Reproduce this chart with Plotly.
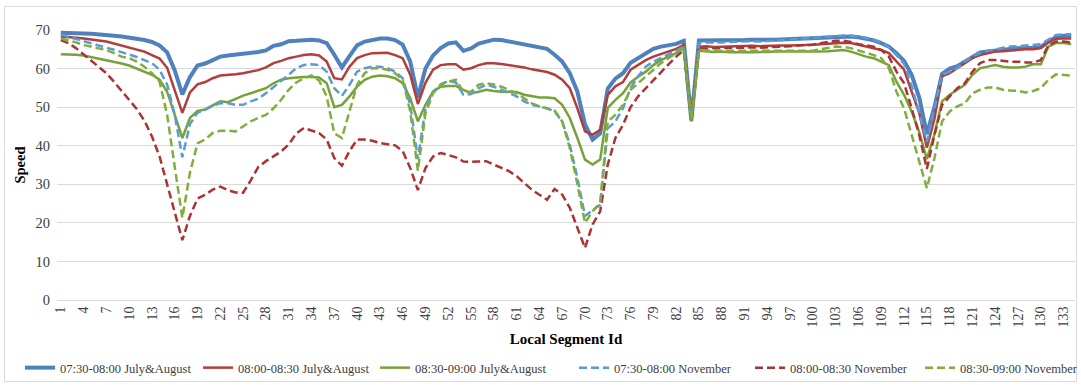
import plotly.graph_objects as go

# Local segment ids 1..134
segments = list(range(1, 135))

speed_0730_jul_aug = [
    69.3, 69.3, 69.2, 69.1, 69.0, 68.9, 68.8, 68.5, 68.3, 68.0,
    67.8, 67.4, 66.9, 66.0, 64.2, 59.5, 53.3, 57.8, 60.8, 61.3,
    62.2, 63.1, 63.4, 63.6, 63.9, 64.0, 64.3, 64.7, 65.9, 66.3,
    67.1, 67.2, 67.3, 67.5, 67.3, 66.6, 63.6, 60.3, 63.2, 66.0,
    67.0, 67.5, 67.8, 67.8, 67.4, 66.2, 61.8, 52.5, 60.0, 63.4,
    65.3, 66.5, 66.8, 64.6, 65.2, 66.5, 67.1, 67.5, 67.4, 67.0,
    66.7, 66.3, 66.0, 65.6, 65.1, 63.6, 61.8, 58.8, 54.0, 45.5,
    41.6, 43.2, 54.8, 57.4, 58.8, 61.5, 62.7, 64.0, 65.1, 65.7,
    66.1, 66.4, 67.2, 46.5, 67.3, 67.3, 67.2, 67.3, 67.2, 67.4,
    67.4, 67.5, 67.4, 67.5, 67.5, 67.5, 67.6, 67.7, 67.8, 67.9,
    68.0, 68.2, 68.3, 68.4, 68.3, 68.1, 67.8, 67.3, 66.6, 65.7,
    64.0, 62.0, 58.4, 52.5, 43.0, 50.0, 58.6, 60.0, 60.6, 61.8,
    63.1, 64.2, 64.4, 64.7, 64.9, 65.1, 65.3, 65.3, 65.4, 65.6,
    67.0, 68.2, 68.5, 68.6,
]

speed_0800_jul_aug = [
    68.3, 68.2, 68.0, 67.8, 67.6, 67.3, 67.0, 66.5, 66.0, 65.4,
    64.9, 64.4, 63.5, 62.6, 60.2, 54.5, 48.5, 53.8, 55.9, 56.5,
    57.5, 58.2, 58.3, 58.5, 58.8, 59.2, 59.6, 60.3, 61.4, 62.0,
    62.7, 63.1, 63.5, 63.7, 63.4, 61.8, 57.5, 57.2, 60.5, 62.7,
    63.5, 64.0, 64.1, 64.1, 63.5, 62.7, 58.4, 50.8, 56.3, 59.7,
    60.9, 61.1, 61.1, 59.7, 60.1, 60.9, 61.4, 61.4, 61.2, 60.9,
    60.5, 60.3, 59.8, 59.4, 59.1, 58.4, 57.1, 54.9, 49.7, 43.7,
    42.8, 44.1, 53.2, 55.4, 56.5, 59.7, 60.9, 62.2, 63.1, 63.7,
    64.4, 65.1, 66.1, 46.4, 65.7, 65.8, 65.6, 65.7, 65.7, 65.8,
    65.8, 65.9, 65.8, 65.9, 65.9, 66.0, 66.0, 66.0, 66.1, 66.2,
    66.3, 66.5, 66.6, 66.7, 66.6, 66.2, 65.8, 65.3, 64.8, 64.0,
    61.8, 59.7, 54.0, 48.5, 39.5, 47.0, 58.0, 58.8, 60.1, 61.4,
    62.7, 63.5, 64.0, 64.4, 64.5, 64.7, 64.8, 65.0, 65.0, 65.3,
    67.0, 67.7, 67.8, 67.8,
]

speed_0830_jul_aug = [
    63.7, 63.7, 63.6, 63.4, 63.0, 62.6, 62.2, 61.7, 61.3, 60.8,
    60.0, 59.2, 58.4, 57.1, 54.0, 48.0, 42.0, 47.2, 49.0, 49.4,
    50.5, 51.5, 51.3, 52.2, 53.0, 53.6, 54.2, 54.9, 56.2, 57.1,
    57.5, 57.7, 57.8, 57.8, 57.7, 56.2, 50.0, 50.6, 52.8, 55.3,
    57.1, 57.9, 58.2, 58.0, 57.5, 56.2, 52.3, 46.3, 50.6, 54.0,
    55.3, 55.5, 55.5, 54.5, 53.6, 54.0, 54.5, 54.2, 54.0, 54.0,
    53.9, 53.2, 52.8, 52.5, 52.5, 52.3, 50.6, 47.2, 42.0, 36.4,
    35.1, 36.4, 49.8, 51.9, 53.6, 56.4, 57.9, 59.2, 60.9, 62.2,
    63.1, 64.0, 65.4, 46.3, 64.6, 64.4, 64.3, 64.4, 64.2, 64.2,
    64.3, 64.2, 64.2, 64.3, 64.4, 64.4, 64.3, 64.4, 64.4, 64.4,
    64.4, 64.5, 64.6, 64.8, 64.4, 63.7, 63.1, 62.7, 61.8, 60.9,
    56.6, 53.2, 48.9, 43.5, 36.5, 43.0, 51.5, 53.2, 54.5, 55.8,
    58.4, 60.1, 60.5, 60.9, 60.5, 60.3, 60.3, 60.5, 61.1, 61.1,
    65.7, 66.6, 66.6, 66.4,
]

speed_0730_nov = [
    68.8, 68.2, 67.7, 67.2, 66.6, 66.0, 65.4, 64.9, 64.3, 63.7,
    63.0, 62.2, 61.4, 59.7, 55.8, 48.0, 37.0, 45.6, 48.6, 49.3,
    50.4, 51.0, 51.0, 50.6, 50.6, 51.5, 52.2, 53.6, 55.3, 56.8,
    58.4, 60.1, 60.9, 61.1, 60.9, 59.2, 54.9, 52.9, 55.8, 59.2,
    60.1, 60.5, 60.5, 60.1, 59.2, 57.5, 50.6, 36.5, 49.7, 54.0,
    55.9, 56.8, 56.4, 53.2, 53.4, 54.9, 55.8, 55.3, 54.5, 53.6,
    52.8, 51.5, 50.6, 50.2, 49.7, 48.9, 46.3, 40.3, 31.6, 21.8,
    23.2, 24.7, 44.5, 46.3, 49.7, 55.0, 58.0, 60.5, 61.8, 62.7,
    63.5, 64.6, 65.7, 46.5, 66.6, 66.8, 66.7, 66.8, 66.8, 67.0,
    67.0, 67.1, 67.0, 67.2, 67.3, 67.4, 67.5, 67.6, 67.8, 67.9,
    68.1, 68.3, 68.5, 68.6, 68.5, 68.3, 68.0, 67.5, 66.8, 65.5,
    63.5, 61.2, 55.5, 48.5, 41.0, 49.5, 58.4, 59.2, 60.1, 61.8,
    63.1, 64.0, 64.6, 64.9, 65.4, 65.7, 65.8, 65.9, 66.1, 66.3,
    67.4, 68.7, 68.9, 68.9,
]

speed_0800_nov = [
    67.4, 66.6, 65.3, 63.7, 62.2, 60.5, 58.8, 56.6, 54.2, 52.0,
    49.5, 46.5, 42.4, 37.2, 30.0, 22.5, 15.5, 21.8, 26.3, 27.3,
    28.6, 29.4, 28.5, 27.9, 27.8, 31.0, 34.5, 36.0, 37.3, 38.5,
    40.3, 43.2, 44.6, 44.0, 43.3, 41.6, 36.8, 34.8, 38.6, 41.6,
    41.6, 41.3, 40.7, 40.4, 40.1, 38.6, 34.2, 28.5, 34.2, 37.2,
    38.1, 37.6, 37.0, 35.9, 35.8, 35.9, 36.0, 35.1, 34.2, 33.4,
    32.1, 30.3, 28.6, 27.3, 26.0, 28.8, 27.3, 23.9, 18.7, 13.5,
    19.6, 23.0, 35.1, 42.0, 45.4, 50.0, 52.8, 54.9, 57.1, 59.2,
    61.1, 63.1, 64.8, 46.5, 65.3, 65.2, 65.3, 65.3, 65.4, 65.4,
    65.4, 65.5, 65.4, 65.5, 65.5, 65.6, 65.8, 66.0, 66.1, 66.2,
    66.6, 66.9, 67.2, 67.2, 66.9, 66.3, 66.0, 65.7, 64.8, 63.1,
    59.2, 56.2, 49.7, 42.8, 34.0, 42.8, 50.6, 52.8, 54.9, 56.2,
    59.2, 61.4, 62.2, 62.2, 62.0, 61.8, 61.8, 61.6, 61.6, 62.2,
    66.1, 67.0, 67.0, 66.8,
]

speed_0830_nov = [
    67.8, 67.3, 66.8, 66.1, 65.7, 65.3, 64.8, 64.0, 63.1, 62.7,
    61.8, 60.5, 58.8, 56.6, 48.0, 34.5, 21.3, 33.0, 40.6, 41.6,
    43.3, 43.9, 43.9, 43.7, 45.0, 46.3, 47.2, 48.0, 49.7, 51.9,
    54.5, 56.4, 57.5, 58.2, 56.9, 52.8, 43.2, 42.0, 48.9, 55.8,
    58.8, 60.1, 60.1, 59.7, 58.8, 57.1, 48.9, 33.5, 48.4, 53.6,
    55.8, 56.6, 57.1, 54.0, 54.0, 55.8, 56.2, 55.9, 55.3, 54.5,
    53.6, 52.3, 51.0, 50.2, 49.7, 49.1, 46.3, 39.4, 30.0, 20.0,
    23.0, 25.2, 46.3, 48.0, 50.6, 54.5, 56.2, 57.9, 59.7, 61.4,
    62.7, 64.0, 65.4, 46.5, 64.8, 64.6, 64.6, 64.6, 64.6, 64.6,
    64.6, 64.6, 64.6, 64.6, 64.6, 64.6, 64.6, 64.6, 64.6, 64.6,
    65.0, 65.3, 65.7, 65.6, 65.3, 64.7, 64.2, 63.5, 62.7, 60.1,
    54.0, 49.7, 42.8, 36.0, 29.0, 36.8, 46.3, 48.9, 50.2, 51.0,
    53.6, 54.5, 55.1, 55.1, 54.5, 54.3, 54.2, 53.8, 54.2, 54.9,
    57.1, 58.5, 58.4, 58.2,
]

x_tick_labels = [str(v) for v in range(1, 135, 3)]
y_tick_values = [0, 10, 20, 30, 40, 50, 60, 70]

series = [
    ("07:30-08:00 July&August", speed_0730_jul_aug, "#4F81BD", 4.0, "solid"),
    ("08:00-08:30 July&August", speed_0800_jul_aug, "#B23E3B", 2.5, "solid"),
    ("08:30-09:00 July&August", speed_0830_jul_aug, "#77A23A", 2.5, "solid"),
    ("07:30-08:00 November", speed_0730_nov, "#5B9BD5", 2.5, "8px,4px"),
    ("08:00-08:30 November", speed_0800_nov, "#A93431", 2.5, "8px,4px"),
    ("08:30-09:00 November", speed_0830_nov, "#7FAE3E", 2.5, "8px,4px"),
]

W, H = 1081, 385
L, R, T, B = 57, 6, 30, 85
pw, ph = W - L - R, H - T - B

def px_x(p):
    return (p - L) / pw

def px_y(p):
    return (H - B - p) / ph

serif = "Liberation Serif, Times New Roman, serif"

# left edge (px) of each legend entry along the bottom row
legend_left_px = [20, 198, 375, 574, 750, 920]
legend_ids = ["legend", "legend2", "legend3", "legend4", "legend5", "legend6"]

fig = go.Figure()
for (name, values, color, width, dash), lid in zip(series, legend_ids):
    fig.add_trace(go.Scatter(
        x=segments, y=values, name=name, mode="lines",
        line=dict(color=color, width=width, dash=dash),
        legend=lid,
    ))

legend_layouts = {}
for lid, left in zip(legend_ids, legend_left_px):
    legend_layouts[lid] = dict(
        orientation="h", x=px_x(left), xanchor="left",
        y=px_y(368), yanchor="middle",
        font=dict(family=serif, size=12.5, color="#404040"),
        itemwidth=30, bgcolor="rgba(0,0,0,0)", borderwidth=0,
    )

fig.update_layout(
    width=W, height=H,
    margin=dict(l=L, r=R, t=T, b=B, pad=0, autoexpand=False),
    paper_bgcolor="white", plot_bgcolor="white",
    font=dict(family=serif, size=13, color="#404040"),
    showlegend=True,
    shapes=[dict(
        type="rect", xref="paper", yref="paper",
        x0=px_x(4.5), x1=px_x(1076.5), y0=px_y(381.5), y1=px_y(6.5),
        line=dict(color="#D9D9D9", width=1), layer="below",
    )],
    **legend_layouts,
)

fig.update_xaxes(
    range=[0.5, 134.5],
    tickmode="array",
    tickvals=list(range(1, 135, 3)),
    ticktext=x_tick_labels,
    tickangle=-90,
    tickfont=dict(family=serif, size=14, color="#404040"),
    showgrid=False, zeroline=False,
    showline=True, linecolor="#D9D9D9", linewidth=1,
    ticks="", ticklen=0,
    title=dict(text="<b>Local Segment Id</b>", standoff=6,
               font=dict(family=serif, size=15, color="#000000")),
)
fig.update_yaxes(
    range=[0, 70],
    tickvals=y_tick_values,
    tickfont=dict(family=serif, size=14.5, color="#404040"),
    showgrid=True, gridcolor="#D9D9D9", gridwidth=1,
    zeroline=False, showline=False, ticks="",
    ticklabelstandoff=6,
    title=dict(text="<b>Speed</b>", standoff=6,
               font=dict(family=serif, size=14.5, color="#000000")),
)

fig.write_html("out.html")
